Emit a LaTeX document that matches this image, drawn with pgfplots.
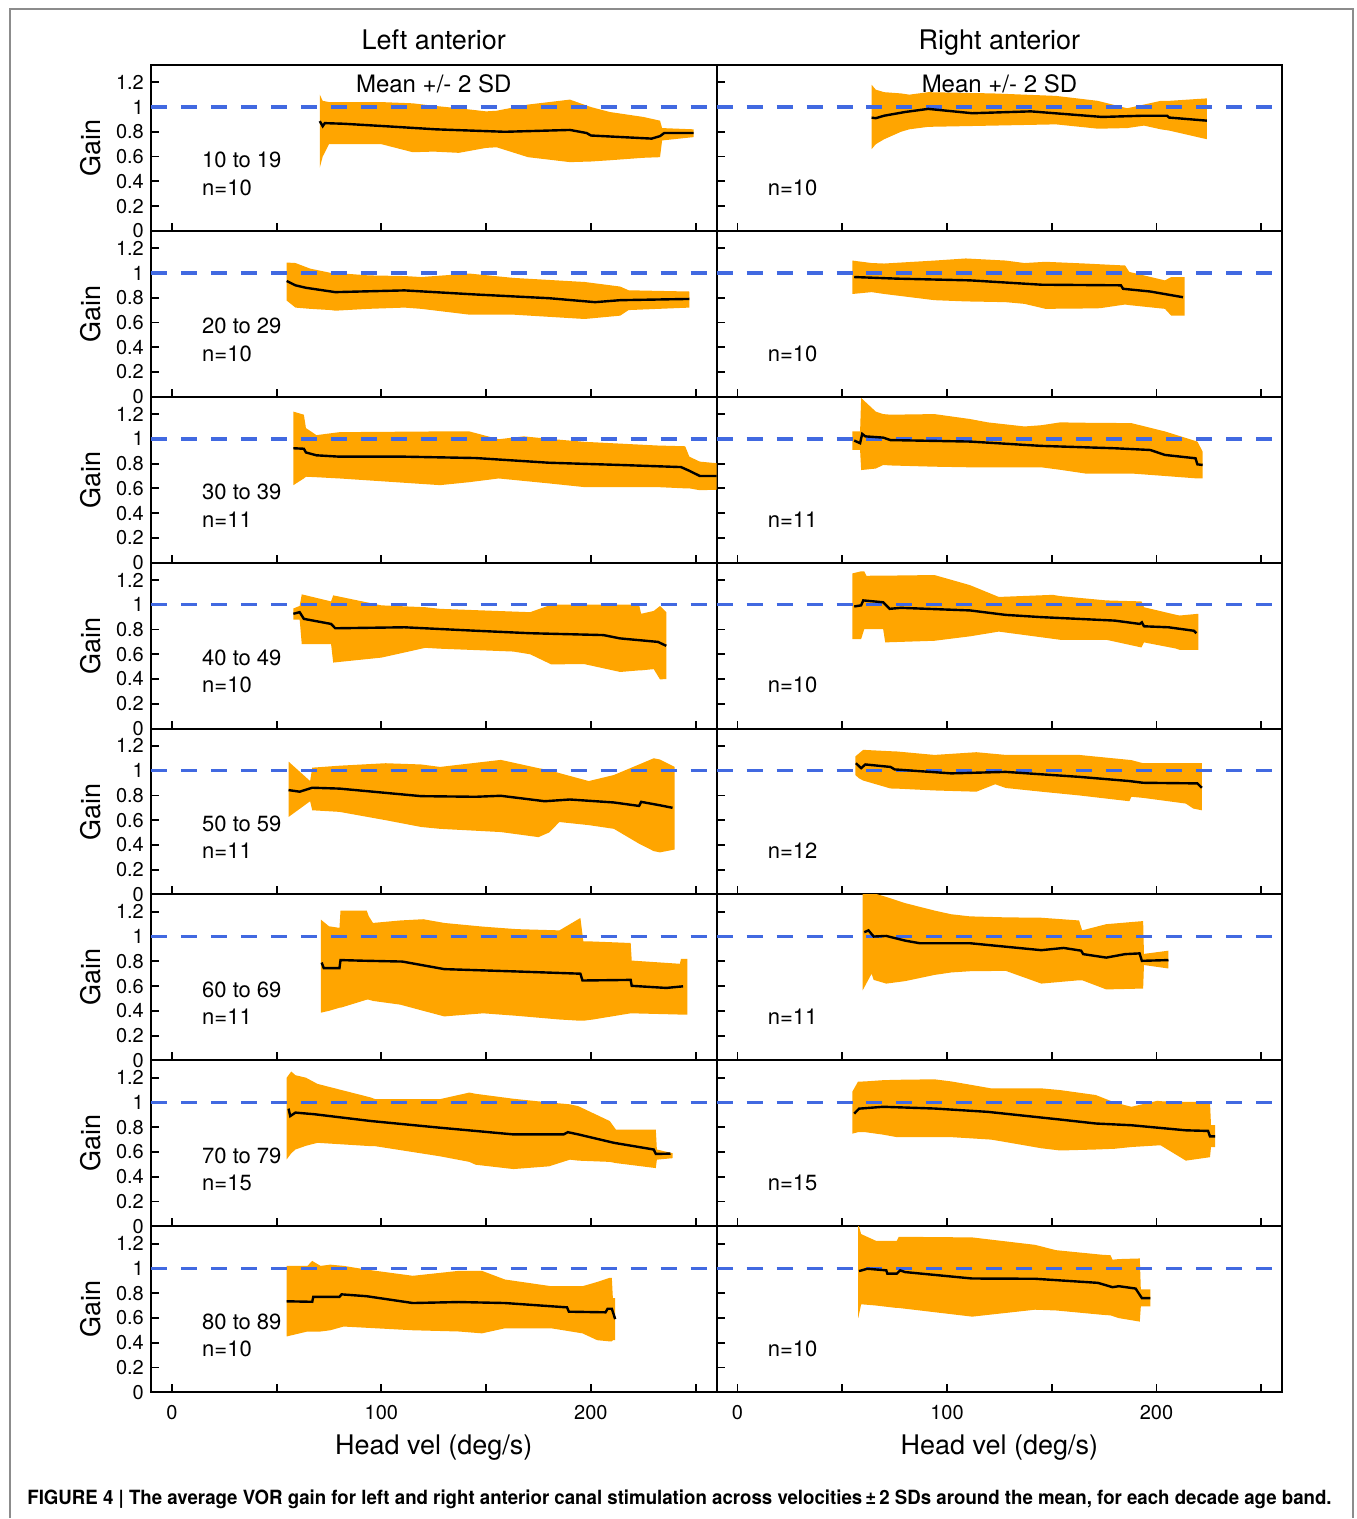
\documentclass[border=0pt]{standalone}
\usepackage{fontspec}
\setmainfont{TeX Gyre Heros}
\usepackage{graphicx}
\usepackage{pgfplots}
\pgfplotsset{compat=1.18}
\usepgfplotslibrary{fillbetween}
\definecolor{band}{RGB}{255,165,0}
\definecolor{refblue}{RGB}{65,105,225}

% ---------- Left anterior ----------
\pgfplotstableread{
x lo hi
70.6 0.51 1.10
72 0.60 1.05
75 0.70 1.04
100 0.70 1.04
115 0.635 1.03
125 0.64 1.01
137 0.63 0.99
150 0.67 0.965
155 0.675 0.97
170 0.595 1.02
190 0.555 1.06
200 0.56 1.00
209 0.57 0.96
225 0.59 0.92
233 0.595 0.89
234 0.73 0.83
249 0.757 0.82
}\bLa
\pgfplotstableread{
x m
70.6 0.886
72 0.845
73 0.87
82 0.865
104 0.843
126 0.82
159 0.80
190 0.815
198 0.79
200 0.77
229 0.745
233 0.765
235 0.79
249 0.79
}\mLa
\pgfplotstableread{
x lo hi
54.8 0.777 1.084
59 0.72 1.08
66 0.71 1.035
76 0.70 1.0
78 0.695 1.0
94 0.71 0.98
111 0.72 0.975
119 0.71 0.967
142 0.663 0.995
163 0.663 0.96
197 0.628 0.927
214 0.655 0.89
218 0.70 0.86
247 0.72 0.85
}\bLb
\pgfplotstableread{
x m
54.8 0.935
59 0.90
64 0.88
78 0.845
111 0.859
145 0.826
180 0.796
202 0.764
214 0.78
247 0.79
}\mLb
\pgfplotstableread{
x lo hi
58 0.626 1.22
63 0.68 1.195
64 0.694 1.087
69 0.69 1.03
80 0.68 1.054
128 0.626 1.06
142 0.65 1.06
156 0.68 0.997
168 0.66 1.02
180 0.64 1.0
197 0.61 0.976
232 0.61 0.946
245 0.60 0.94
247 0.60 0.856
252 0.585 0.816
262 0.59 0.80
}\bLc
\pgfplotstableread{
x m
58 0.924
63 0.92
64 0.89
69 0.867
80 0.856
111 0.856
145 0.845
180 0.807
214 0.789
243 0.772
247 0.742
252 0.70
262 0.70
}\mLc
\pgfplotstableread{
x lo hi
58 0.88 0.97
61 0.88 0.99
62 0.682 1.084
76 0.682 1.027
77 0.533 1.076
100 0.573 0.995
121 0.652 0.98
128 0.645 0.967
163 0.622 0.945
171 0.60 0.94
181 0.519 1.0
197 0.52 1.0
214 0.457 1.0
223 0.47 1.0
224 0.47 0.927
230 0.48 0.95
233 0.397 0.99
236 0.40 0.94
}\bLd
\pgfplotstableread{
x m
58 0.927
61 0.94
63 0.886
76 0.845
78 0.81
111 0.818
145 0.79
171 0.77
206 0.755
214 0.728
232 0.70
236 0.668
}\mLd
\pgfplotstableread{
x lo hi
55.7 0.626 1.073
66 0.753 0.916
67 0.68 1.024
80 0.667 1.04
102 0.60 1.06
119 0.545 1.05
128 0.53 1.03
157 0.504 1.087
175 0.463 1.02
180 0.50 1.005
185 0.585 0.98
199 0.56 0.916
211 0.53 0.965
223 0.41 1.05
230 0.35 1.10
233 0.34 1.09
240 0.363 1.03
}\bLe
\pgfplotstableread{
x m
55.7 0.843
61 0.83
67 0.862
80 0.855
119 0.794
145 0.789
157 0.797
178 0.753
190 0.767
211 0.743
223 0.715
224 0.748
233 0.72
239 0.70
}\mLe
\pgfplotstableread{
x lo hi
71.1 0.385 1.137
75 0.40 1.083
80 0.425 1.07
80.5 0.425 1.21
93 0.49 1.21
94 0.49 1.164
96 0.48 1.11
109 0.45 1.13
120 0.40 1.14
130 0.355 1.11
148.6 0.38 1.08
164.5 0.36 1.06
185 0.33 1.05
195 0.32 1.15
196.4 0.32 0.962
201 0.33 0.96
219 0.38 0.948
219.5 0.38 0.806
242.5 0.37 0.78
243 0.37 0.82
246 0.37 0.82
}\bLf
\pgfplotstableread{
x m
71.5 0.79
72.5 0.745
80 0.745
80.5 0.81
91 0.805
110 0.798
130 0.737
164.5 0.718
195 0.70
196 0.645
219 0.65
219.5 0.602
236 0.585
244 0.598
}\mLf
\pgfplotstableread{
x lo hi
54.8 0.54 1.20
57 0.59 1.25
59 0.62 1.22
64 0.65 1.20
69.5 0.674 1.15
95 0.647 1.04
97 0.647 1.027
128 0.565 1.027
142 0.52 1.08
145 0.497 1.07
163 0.462 1.03
180 0.484 1.0
190 0.538 0.985
194 0.53 0.97
209 0.52 0.85
212 0.51 0.78
231 0.47 0.78
231.5 0.538 0.62
239 0.55 0.59
}\bLg
\pgfplotstableread{
x m
55.7 0.95
56.5 0.89
59 0.918
68 0.905
95 0.85
128 0.796
163 0.742
187 0.742
189 0.76
194 0.742
211 0.674
230 0.62
231 0.584
238 0.587
}\mLg
\pgfplotstableread{
x lo hi
54.8 0.45 1.02
64.7 0.49 1.02
67 0.49 1.06
71 0.49 1.02
75.6 0.50 1.03
82 0.53 1.02
93 0.52 0.99
115 0.50 0.94
137 0.49 0.98
148 0.475 0.98
159 0.516 0.91
181 0.516 0.856
196 0.475 0.856
203 0.42 0.89
209 0.41 0.924
210 0.41 0.924
210.5 0.42 0.76
211.6 0.42 0.76
}\bLh
\pgfplotstableread{
x m
54.8 0.734
67 0.73
67.5 0.77
80 0.77
81 0.79
93 0.775
115 0.72
137 0.728
159 0.72
188.6 0.685
189.5 0.65
207 0.645
208 0.674
210 0.674
211.6 0.59
}\mLh

% ---------- Right anterior ----------
\pgfplotstableread{
x lo hi
64 0.66 1.18
66 0.70 1.14
70 0.74 1.12
78 0.80 1.11
82 0.82 1.10
91 0.84 1.12
122 0.85 1.11
152 0.86 1.09
172 0.825 1.05
186 0.83 0.99
194 0.85 1.02
202 0.82 1.05
206 0.81 1.05
224 0.74 1.07
}\bRa
\pgfplotstableread{
x m
64 0.914
66 0.91
70 0.93
80 0.96
91 0.985
112 0.95
140 0.965
174 0.92
194 0.93
205 0.93
206 0.915
224 0.89
}\mRa
\pgfplotstableread{
x lo hi
54.8 0.83 1.10
64 0.845 1.08
70 0.83 1.076
94 0.78 1.10
109 0.77 1.117
128 0.764 1.10
137 0.75 1.08
147 0.71 1.09
166 0.713 1.076
173 0.715 1.07
185 0.745 1.06
187 0.74 1.008
204 0.71 0.94
207 0.655 0.967
213.4 0.655 0.967
}\bRb
\pgfplotstableread{
x m
55.7 0.967
76 0.954
111 0.94
145 0.905
183 0.90
184 0.872
197 0.85
212.6 0.804
}\mRb
\pgfplotstableread{
x lo hi
54.8 0.91 1.06
58.5 0.91 1.06
59 0.748 1.33
66 0.76 1.22
69.5 0.789 1.20
73 0.785 1.195
94 0.775 1.20
111 0.77 1.16
119.5 0.77 1.133
137 0.77 1.10
145 0.77 1.11
154 0.75 1.133
166 0.72 1.13
188 0.72 1.127
204 0.70 1.06
219.5 0.68 0.978
222 0.68 0.897
}\bRc
\pgfplotstableread{
x m
55.7 0.986
58.5 0.965
59.5 1.04
61 1.02
69.5 1.01
73 0.99
111 0.978
145 0.943
180 0.924
197 0.91
204 0.87
218.6 0.843
219.5 0.794
222 0.789
}\mRc
\pgfplotstableread{
x lo hi
54.8 0.723 1.253
59 0.723 1.27
60.5 0.804 1.27
61.5 0.804 1.234
69.5 0.804 1.235
70.5 0.696 1.235
94 0.709 1.24
111 0.745 1.158
124.7 0.783 1.063
150.5 0.725 1.08
154 0.717 1.07
176 0.717 1.035
192.8 0.655 1.027
194 0.696 0.98
209 0.647 0.92
211 0.636 0.913
220 0.636 0.927
}\bRd
\pgfplotstableread{
x m
55.7 0.986
59 0.995
60 1.035
69.5 1.02
72.6 0.967
78 0.975
111 0.954
128 0.918
145 0.90
180 0.872
192 0.845
193 0.858
194 0.826
205.7 0.818
217.8 0.79
219 0.77
}\mRd
\pgfplotstableread{
x lo hi
56.2 0.965 1.114
58 0.938 1.14
60 0.92 1.168
73 0.856 1.157
76 0.855 1.155
94 0.84 1.127
114 0.83 1.149
123 0.89 1.135
128 0.86 1.127
145 0.83 1.127
163 0.80 1.127
187 0.753 1.087
188 0.789 1.085
193.6 0.78 1.06
214 0.734 1.06
217.5 0.694 1.06
221.6 0.68 1.06
}\bRe
\pgfplotstableread{
x m
56.5 1.06
59 1.02
61 1.05
73 1.03
75 1.01
102 0.978
128 0.99
163 0.95
187 0.916
193.6 0.902
219.5 0.897
221.6 0.862
}\mRe
\pgfplotstableread{
x lo hi
59.7 0.565 1.36
64 0.70 1.36
65 0.65 1.35
71 0.62 1.32
80 0.64 1.27
94 0.69 1.21
102 0.71 1.18
111 0.72 1.163
128 0.723 1.155
145 0.62 1.152
163 0.647 1.13
164.5 0.647 1.05
176 0.573 1.10
193.6 0.58 1.125
194 0.77 0.86
205.7 0.742 0.886
}\bRf
\pgfplotstableread{
x m
60.5 1.035
62.5 1.05
65 1.0
71 1.005
80 0.967
87 0.946
111 0.946
145 0.89
155.7 0.908
164 0.886
165 0.858
176 0.83
185 0.858
191.9 0.864
193 0.804
205.7 0.81
}\mRf
\pgfplotstableread{
x lo hi
54.8 0.748 1.087
57.5 0.76 1.168
61 0.76 1.17
69.5 0.74 1.18
76 0.72 1.183
94 0.72 1.187
102 0.72 1.17
121 0.70 1.114
128 0.68 1.114
145 0.63 1.114
154 0.612 1.10
171 0.62 1.06
180 0.626 1.00
188 0.64 0.965
200.5 0.653 1.014
202 0.653 1.01
214 0.53 1.005
225.5 0.558 1.005
226 0.64 0.816
228 0.64 0.816
}\bRg
\pgfplotstableread{
x m
55.7 0.91
58 0.95
69.5 0.965
94 0.951
119.5 0.924
154 0.862
171 0.83
188 0.816
214 0.775
224.6 0.77
225.5 0.726
228 0.726
}\mRg
\pgfplotstableread{
x lo hi
57.6 0.598 1.36
59 0.71 1.277
66 0.70 1.223
76 0.68 1.223
77 0.68 1.255
112 0.61 1.25
142 0.666 1.19
152 0.66 1.147
174 0.625 1.11
178 0.62 1.106
179 0.615 1.07
182 0.598 1.075
192 0.57 1.08
192.5 0.693 0.83
197 0.693 0.83
}\bRh
\pgfplotstableread{
x m
58 0.978
62 0.997
71 0.984
71.5 0.957
76 0.957
77.6 0.984
80 0.97
112 0.918
142 0.916
172 0.883
179 0.848
182 0.856
190 0.837
193 0.76
197 0.76
}\mRh

\pgfplotsset{
  panel/.style={
    scale only axis, width=283pt, height=83pt,
    xmin=-10, xmax=260, ymin=0, ymax=1.34,
    axis line style={line width=1pt},
    xtick={0,50,100,150,200,250},
    ytick={0,0.2,0.4,0.6,0.8,1,1.2},
    xtick pos=bottom, ytick pos=left,
    tick align=inside, major tick length=4pt,
    tick style={line width=0.9pt, black},
    xticklabels={},
    yticklabels={0,0.2,0.4,0.6,0.8,1,1.2},
    /pgf/number format/assume math mode=true,
    tick label style={font=\fontsize{10}{12}\selectfont},
    xticklabel style={yshift=-3pt},
    anchor=north west,
  },
  leftcol/.style={ylabel={Gain},
    ylabel style={at={(axis description cs:-0.106,0.5)}, anchor=center,
                  font=\fontsize{13.5}{15}\selectfont}},
  rightcol/.style={yticklabels={}},
  bottomrow/.style={xticklabels={0,,100,,200,}},
}

% one panel: #1 band table, #2 mean table
\newcommand{\panelplots}[2]{%
  \addplot[refblue, line width=1.7pt, dash pattern=on 8pt off 7pt] coordinates {(-10,1) (260,1)};
  \addplot[name path=U, draw=none] table[x=x,y=hi]{#1};
  \addplot[name path=L, draw=none] table[x=x,y=lo]{#1};
  \addplot[band, draw=none] fill between[of=U and L];
  \addplot[black, line width=1.2pt] table[x=x,y=m]{#2};
}
\newcommand{\lab}[1]{\fontsize{11}{13}\selectfont #1}

\begin{document}
\begin{tikzpicture}
\path (0,0) rectangle (678.5pt,759.5pt);
\draw[black!45, line width=0.9pt] (5pt,0pt) -- (5pt,755pt) -- (677pt,755pt) -- (677pt,0pt);

\node[anchor=base, font=\fontsize{13.5}{15}\selectfont] at (217pt,734.5pt) {Left anterior};
\node[anchor=base, font=\fontsize{13.5}{15}\selectfont] at (500pt,734.5pt) {Right anterior};

% ---- left column ----
\begin{axis}[panel, leftcol, at={(75.5pt,727pt)}]
\panelplots{\bLa}{\mLa}
\node[anchor=center, inner sep=0pt, font=\fontsize{12}{14}\selectfont] at (axis cs:125,1.185) {Mean +/- 2 SD};
\node[anchor=west, inner sep=0pt] at (axis cs:14.3,0.57) {\lab{10 to 19}};
\node[anchor=west, inner sep=0pt] at (axis cs:14.3,0.35) {\lab{n=10}};
\end{axis}
\begin{axis}[panel, leftcol, at={(75.5pt,644pt)}]
\panelplots{\bLb}{\mLb}
\node[anchor=west, inner sep=0pt] at (axis cs:14.3,0.57) {\lab{20 to 29}};
\node[anchor=west, inner sep=0pt] at (axis cs:14.3,0.35) {\lab{n=10}};
\end{axis}
\begin{axis}[panel, leftcol, at={(75.5pt,561pt)}]
\panelplots{\bLc}{\mLc}
\node[anchor=west, inner sep=0pt] at (axis cs:14.3,0.57) {\lab{30 to 39}};
\node[anchor=west, inner sep=0pt] at (axis cs:14.3,0.35) {\lab{n=11}};
\end{axis}
\begin{axis}[panel, leftcol, at={(75.5pt,478pt)}]
\panelplots{\bLd}{\mLd}
\node[anchor=west, inner sep=0pt] at (axis cs:14.3,0.57) {\lab{40 to 49}};
\node[anchor=west, inner sep=0pt] at (axis cs:14.3,0.35) {\lab{n=10}};
\end{axis}
\begin{axis}[panel, leftcol, at={(75.5pt,395pt)}]
\panelplots{\bLe}{\mLe}
\node[anchor=west, inner sep=0pt] at (axis cs:14.3,0.57) {\lab{50 to 59}};
\node[anchor=west, inner sep=0pt] at (axis cs:14.3,0.35) {\lab{n=11}};
\end{axis}
\begin{axis}[panel, leftcol, at={(75.5pt,312pt)}]
\panelplots{\bLf}{\mLf}
\node[anchor=west, inner sep=0pt] at (axis cs:14.3,0.57) {\lab{60 to 69}};
\node[anchor=west, inner sep=0pt] at (axis cs:14.3,0.35) {\lab{n=11}};
\end{axis}
\begin{axis}[panel, leftcol, at={(75.5pt,229pt)}]
\panelplots{\bLg}{\mLg}
\node[anchor=west, inner sep=0pt] at (axis cs:14.3,0.57) {\lab{70 to 79}};
\node[anchor=west, inner sep=0pt] at (axis cs:14.3,0.35) {\lab{n=15}};
\end{axis}
\begin{axis}[panel, leftcol, bottomrow, at={(75.5pt,146pt)}]
\panelplots{\bLh}{\mLh}
\node[anchor=west, inner sep=0pt] at (axis cs:14.3,0.57) {\lab{80 to 89}};
\node[anchor=west, inner sep=0pt] at (axis cs:14.3,0.35) {\lab{n=10}};
\end{axis}

% ---- right column ----
\begin{axis}[panel, rightcol, at={(358.5pt,727pt)}]
\panelplots{\bRa}{\mRa}
\node[anchor=center, inner sep=0pt, font=\fontsize{12}{14}\selectfont] at (axis cs:125,1.185) {Mean +/- 2 SD};
\node[anchor=west, inner sep=0pt] at (axis cs:14.3,0.35) {\lab{n=10}};
\end{axis}
\begin{axis}[panel, rightcol, at={(358.5pt,644pt)}]
\panelplots{\bRb}{\mRb}
\node[anchor=west, inner sep=0pt] at (axis cs:14.3,0.35) {\lab{n=10}};
\end{axis}
\begin{axis}[panel, rightcol, at={(358.5pt,561pt)}]
\panelplots{\bRc}{\mRc}
\node[anchor=west, inner sep=0pt] at (axis cs:14.3,0.35) {\lab{n=11}};
\end{axis}
\begin{axis}[panel, rightcol, at={(358.5pt,478pt)}]
\panelplots{\bRd}{\mRd}
\node[anchor=west, inner sep=0pt] at (axis cs:14.3,0.35) {\lab{n=10}};
\end{axis}
\begin{axis}[panel, rightcol, at={(358.5pt,395pt)}]
\panelplots{\bRe}{\mRe}
\node[anchor=west, inner sep=0pt] at (axis cs:14.3,0.35) {\lab{n=12}};
\end{axis}
\begin{axis}[panel, rightcol, at={(358.5pt,312pt)}]
\panelplots{\bRf}{\mRf}
\node[anchor=west, inner sep=0pt] at (axis cs:14.3,0.35) {\lab{n=11}};
\end{axis}
\begin{axis}[panel, rightcol, at={(358.5pt,229pt)}]
\panelplots{\bRg}{\mRg}
\node[anchor=west, inner sep=0pt] at (axis cs:14.3,0.35) {\lab{n=15}};
\end{axis}
\begin{axis}[panel, rightcol, bottomrow, at={(358.5pt,146pt)}]
\panelplots{\bRh}{\mRh}
\node[anchor=west, inner sep=0pt] at (axis cs:14.3,0.35) {\lab{n=10}};
\end{axis}

\node[anchor=base, font=\fontsize{13.5}{15}\selectfont] at (217pt,32pt) {Head vel (deg/s)};
\node[anchor=base, font=\fontsize{13.5}{15}\selectfont] at (500pt,32pt) {Head vel (deg/s)};

\node[anchor=west, inner sep=0pt] at (13.5pt,9.5pt)
  {\resizebox{652.5pt}{\height}{\fontsize{9.8}{12}\selectfont\bfseries FIGURE 4 | The average VOR gain for left and right anterior canal stimulation across velocities\,±\,2 SDs around the mean, for each decade age band.}};
\end{tikzpicture}
\end{document}
